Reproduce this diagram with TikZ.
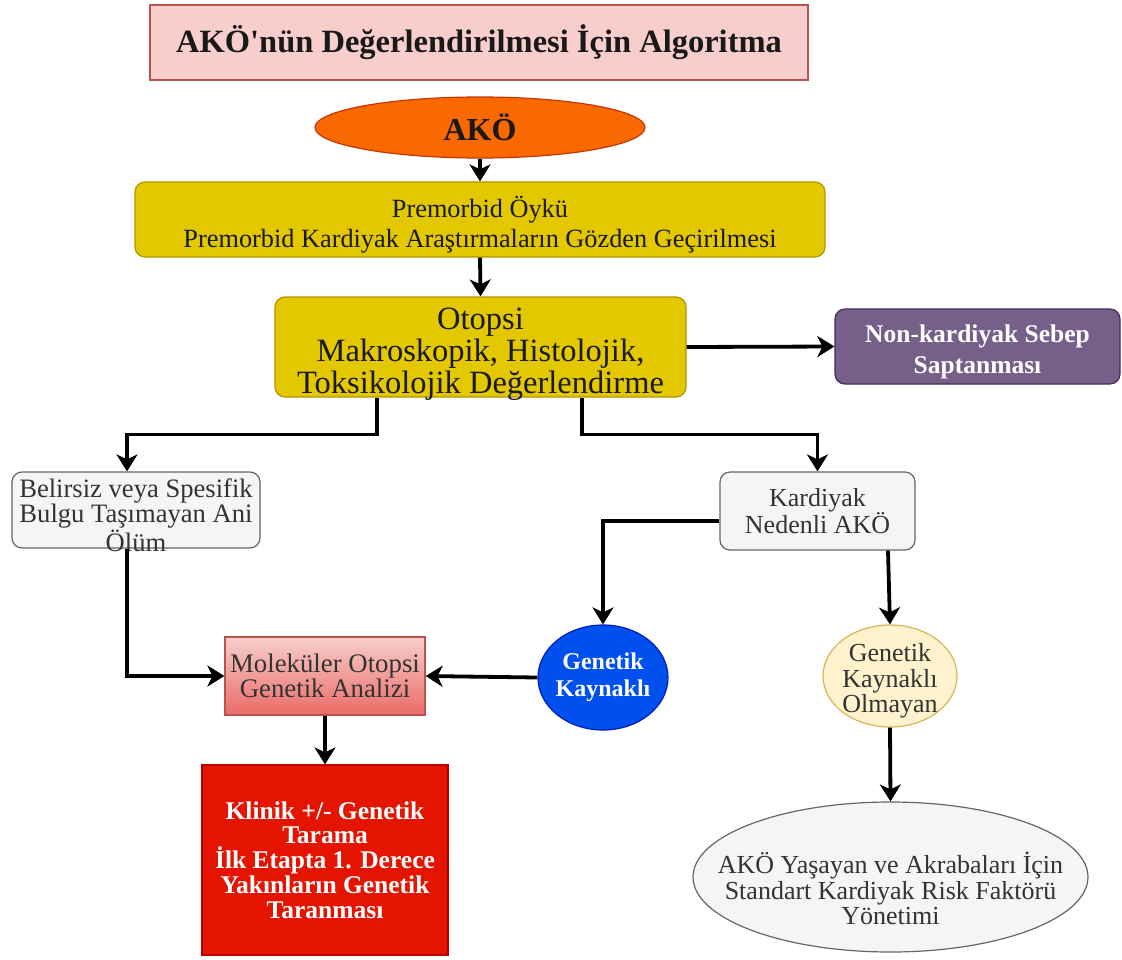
\documentclass[tikz,border=0pt]{standalone}
\usepackage{fontspec}
\setmainfont{Liberation Serif}[Ligatures=TeXOff]
\usetikzlibrary{shapes.geometric,arrows.meta,calc}
\definecolor{pinkfill}{HTML}{F8CECC}
\definecolor{pinkdraw}{HTML}{B85450}
\definecolor{orangefill}{HTML}{FA6800}
\definecolor{orangedraw}{HTML}{C73500}
\definecolor{yellowfill}{HTML}{E3C800}
\definecolor{yellowdraw}{HTML}{B09500}
\definecolor{purplefill}{HTML}{76608A}
\definecolor{purpledraw}{HTML}{432D57}
\definecolor{grayfill}{HTML}{F5F5F5}
\definecolor{graydraw}{HTML}{666666}
\definecolor{graytext}{HTML}{333333}
\definecolor{bluefill}{HTML}{0050EF}
\definecolor{bluedraw}{HTML}{001DBC}
\definecolor{redfill}{HTML}{E51400}
\definecolor{reddraw}{HTML}{B20000}
\definecolor{lightyellow}{HTML}{FFF2CC}
\definecolor{lightyellowdraw}{HTML}{D6B656}
\definecolor{molbottom}{HTML}{EA6B66}
\newcommand{\tup}[1]{\rule{0pt}{#1}}
\tikzset{
  base/.style={inner xsep=0pt, inner ysep=-30pt, align=center, line width=1.2pt},
  rbox/.style={base, rectangle, rounded corners=10pt},
  ebox/.style={base, ellipse, inner xsep=-60pt, inner ysep=-40pt},
  txt/.style={font=\fontsize{26}{25.5}\selectfont},
  txtb/.style={font=\fontsize{24}{27}\selectfont\bfseries},
  arr/.style={line width=3.8pt, -{Stealth[length=17pt,width=21pt,inset=5pt]}},
}
\begin{document}
\begin{tikzpicture}[x=1pt,y=-1pt]
\useasboundingbox[fill=white] (0,0) rectangle (1122,959);

\node[base, rectangle, fill=pinkfill, draw=pinkdraw, minimum width=658pt, minimum height=75pt,
  font=\fontsize{32.5}{34}\selectfont\bfseries, text=black!90] (title) at (479,42.5)
  {\tup{27pt}AKÖ'nün Değerlendirilmesi İçin Algoritma};

\node[ebox, fill=orangefill, draw=orangedraw, minimum width=330pt, minimum height=61pt,
  font=\fontsize{32}{34}\selectfont\bfseries, text=black!90] (ako) at (480,127.5) {AKÖ};

\node[rbox, fill=yellowfill, draw=yellowdraw, minimum width=690pt, minimum height=75pt,
  font=\fontsize{26.3}{30}\selectfont, text=black!90] (pre) at (480,219.5)
  {\tup{31pt}Premorbid Öykü\\Premorbid Kardiyak Araştırmaların Gözden Geçirilmesi};

\node[rbox, fill=yellowfill, draw=yellowdraw, minimum width=411pt, minimum height=100pt,
  font=\fontsize{32.5}{32}\selectfont, text=black!90] (oto) at (480.5,347)
  {\tup{35pt}Otopsi\\Makroskopik, Histolojik,\\Toksikolojik Değerlendirme};

\node[rbox, fill=purplefill, draw=purpledraw, minimum width=285pt, minimum height=75pt,
  font=\fontsize{25.5}{31}\selectfont\bfseries, text=white] (non) at (977.5,346.5)
  {\tup{28pt}Non-kardiyak Sebep\\Saptanması};

\node[rbox, fill=grayfill, draw=graydraw, minimum width=248pt, minimum height=76pt,
  font=\fontsize{26.6}{25.5}\selectfont, text=graytext] (bel) at (136,510)
  {\tup{29pt}Belirsiz veya Spesifik\\Bulgu Taşımayan Ani\\Ölüm};

\node[rbox, fill=grayfill, draw=graydraw, minimum width=195pt, minimum height=78pt,
  txt, text=graytext] (kar) at (817.5,511)
  {Kardiyak\\Nedenli AKÖ};

\node[ebox, fill=bluefill, draw=bluedraw, minimum width=130pt, minimum height=105pt,
  txtb, text=white] (gen) at (603,677.5) {Genetik\\Kaynaklı};

\node[base, rectangle, top color=pinkfill, bottom color=molbottom, draw=pinkdraw,
  minimum width=200pt, minimum height=78pt, font=\fontsize{26.8}{25.5}\selectfont,
  text=graytext] (mol) at (325,676)
  {Moleküler Otopsi\\Genetik Analizi};

\node[base, rectangle, fill=redfill, draw=reddraw, minimum width=246pt, minimum height=190pt,
  font=\fontsize{25.5}{24.8}\selectfont\bfseries, text=white] (kli) at (325,860)
  {Klinik +/- Genetik\\Tarama\\İlk Etapta 1. Derece\\Yakınların Genetik\\Taranması};

\node[ebox, fill=lightyellow, draw=lightyellowdraw, minimum width=134pt, minimum height=102pt,
  txt, text=graytext] (gol) at (890,676) {\tup{28pt}Genetik\\Kaynaklı\\Olmayan};

\node[ebox, fill=grayfill, draw=graydraw, minimum width=395pt, minimum height=150pt,
  txt, text=graytext] (fin) at (890.5,877)
  {\tup{45pt}AKÖ Yaşayan ve Akrabaları İçin\\Standart Kardiyak Risk Faktörü\\Yönetimi};

% connectors
\draw[arr] (ako.south) -- (pre.north);
\draw[arr] (pre.south) -- (oto.north);
\draw[arr] (oto.east) -- (non.west);
\draw[arr] ([xshift=-103.5pt]oto.south) |- ($(bel.north)+(-9,-37)$) -- ([xshift=-9pt]bel.north);
\draw[arr] ([xshift=101.5pt]oto.south) |- ($(kar.north)+(0,-37)$) -- (kar.north);
\draw[arr] ([yshift=-10pt]kar.west) -| (gen.north);
\draw[arr] ([xshift=70.5pt]kar.south) -- (gol.north);
\draw[arr] (gen.west) -- (mol.east);
\draw[arr] ([xshift=-9pt]bel.south) |- (mol.west);
\draw[arr] (mol.south) -- (kli.north);
\draw[arr] (gol.south) -- (fin.north);
\end{tikzpicture}
\end{document}
